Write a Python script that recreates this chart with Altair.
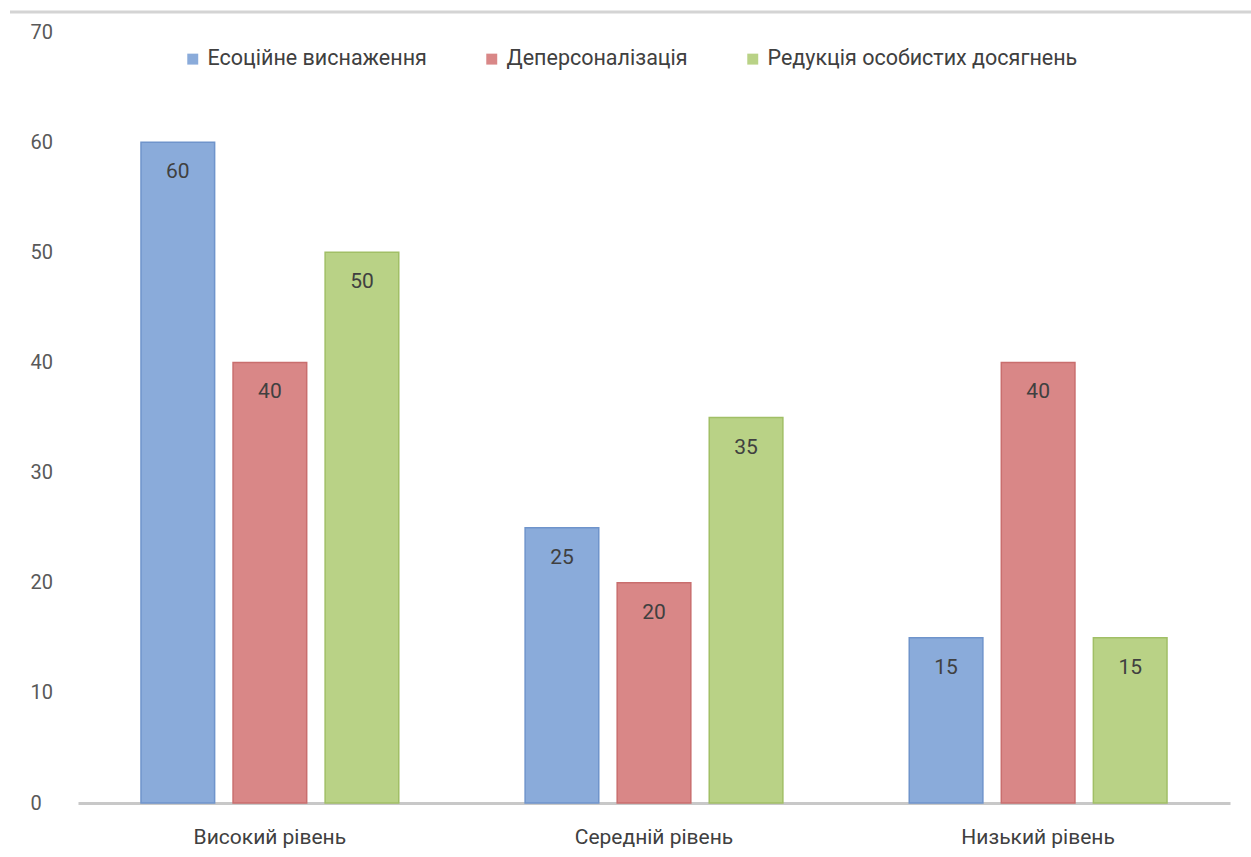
import altair as alt
import pandas as pd

categories = ["Високий рівень", "Середній рівень", "Низький рівень"]
series = ["Есоційне виснаження", "Деперсоналізація", "Редукція особистих досягнень"]
emotional = [60, 25, 15]
depers = [40, 20, 40]
reduction = [50, 35, 15]
colors = ["#8aabda", "#d98787", "#b9d286"]
strokes = ["#6f94cb", "#c96e6e", "#a1bf66"]

rows = []
for s, vals in zip(series, [emotional, depers, reduction]):
    for c, v in zip(categories, vals):
        rows.append({"cat": c, "series": s, "value": v})
df = pd.DataFrame(rows)

FONT = "Roboto, Liberation Sans, sans-serif"

x = alt.X("cat:N", sort=categories, title=None,
          scale=alt.Scale(paddingInner=0.281, paddingOuter=0.14),
          axis=alt.Axis(labelAngle=0, ticks=False, domain=True, domainColor="#c8c8c8",
                        domainWidth=3, labelFontSize=21, labelColor="#404040",
                        labelFont=FONT, labelPadding=23))
xo = alt.XOffset("series:N", sort=series,
                 scale=alt.Scale(paddingInner=0.2, paddingOuter=0.1))
y = alt.Y("value:Q", title=None,
          scale=alt.Scale(domain=[0, 70]),
          axis=alt.Axis(values=list(range(0, 71, 10)), grid=False, ticks=False, domain=False,
                        labelFontSize=20, labelColor="#595959", labelFont=FONT,
                        labelPadding=48, labelAlign="left"))

bars = alt.Chart(df).mark_bar(strokeWidth=1.5).encode(
    x=x, xOffset=xo, y=y,
    color=alt.Color("series:N", sort=series,
                    scale=alt.Scale(domain=series, range=colors),
                    legend=alt.Legend(title=None, orient="none", direction="horizontal",
                                      legendX=104, legendY=16, symbolType="square",
                                      symbolSize=120, labelFontSize=21.5, labelFont=FONT,
                                      labelColor="#404040", columnPadding=54,
                                      labelLimit=0, symbolStrokeWidth=0)),
    stroke=alt.Stroke("series:N", sort=series,
                      scale=alt.Scale(domain=series, range=strokes), legend=None),
)

labels = alt.Chart(df).mark_text(dy=30, fontSize=21, color="#404040", font=FONT).encode(
    x=x, xOffset=xo, y=y, text=alt.Text("value:Q"),
)

topline = alt.Chart(pd.DataFrame({"a": [0]})).mark_rule(color="#d4d4d4", strokeWidth=3).encode(
    x=alt.value(-68), x2=alt.value(1173), y=alt.value(-20)
)

chart = alt.layer(bars, labels, topline).properties(
    width=1152, height=771,
    background="white",
    autosize=alt.AutoSizeParams(type="none"),
    padding={"left": 78, "top": 32, "right": 21, "bottom": 54},
).configure_view(stroke=None)

chart.save("out.html", embed_options={"renderer": "svg", "actions": False})
